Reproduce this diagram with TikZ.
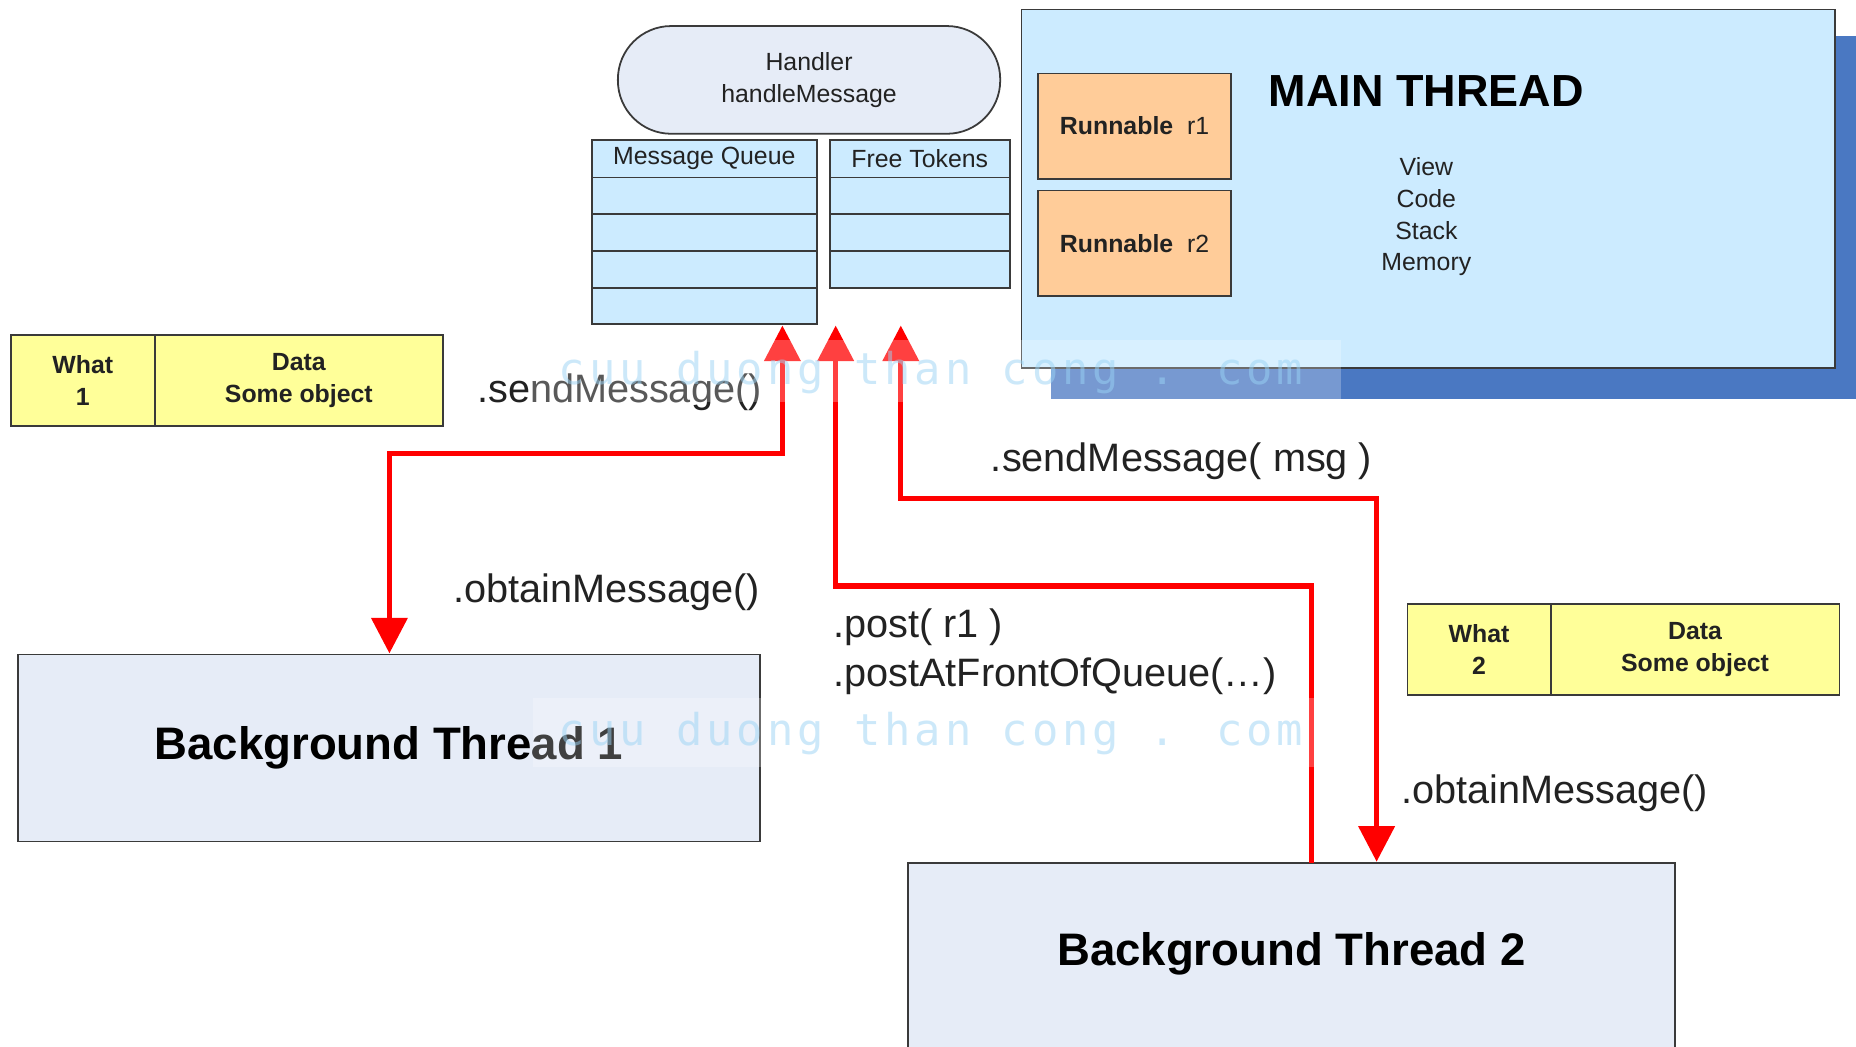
\documentclass[tikz,border=0pt]{standalone}
\usepackage{fontspec}
\setmainfont{Liberation Sans}
\newfontfamily\wmfont[LetterSpace=9]{DejaVu Sans Mono}
\usetikzlibrary{arrows.meta}
\definecolor{lblue}{HTML}{CCEBFF}
\definecolor{lav}{HTML}{E6ECF7}
\definecolor{orng}{HTML}{FFCC99}
\definecolor{yel}{HTML}{FFFF99}
\definecolor{shadowblue}{HTML}{4A78C2}
\definecolor{wm}{HTML}{9AD3F5}
\definecolor{bord}{HTML}{3A3A3A}
\definecolor{txt}{HTML}{222222}
\tikzset{
  box/.style={draw=bord, line width=1.5pt, inner sep=0pt, outer sep=0pt, anchor=north west, align=center, text=txt},
  redline/.style={draw=red, line width=4.5pt, line join=miter},
  redtip/.style={-{Triangle[length=30pt,width=30pt]}},
  redboth/.style={{Triangle[length=30pt,width=30pt]}-{Triangle[length=30pt,width=30pt]}},
  lbl/.style={anchor=west, inner sep=0pt, text=txt, font=\fontsize{33.5}{38}\selectfont},
  wmtext/.style={anchor=base west, inner sep=0pt, text=wm, text opacity=0.5, font=\wmfont\fontsize{37}{42}\selectfont}
}
\begin{document}
\begin{tikzpicture}[x=1pt,y=-1pt]
\useasboundingbox (0,0) rectangle (1568,884);
\clip (0,0) rectangle (1568,884);
\fill[white] (0,0) rectangle (1568,884);

% Handler
\node[box, fill=lav, rounded corners=45pt, minimum width=323pt, minimum height=91pt,
      font=\fontsize{21}{27}\selectfont] (handler) at (522,22) {Handler\\handleMessage};

% Message queue
\node[box, fill=lblue, minimum width=190pt, minimum height=32pt, font=\fontsize{21}{25}\selectfont] (mqh) at (500,118) {Message Queue};
\node[box, fill=lblue, minimum width=190pt, minimum height=31pt] (mq1) at (mqh.south west) {};
\node[box, fill=lblue, minimum width=190pt, minimum height=31pt] (mq2) at (mq1.south west) {};
\node[box, fill=lblue, minimum width=190pt, minimum height=31pt] (mq3) at (mq2.south west) {};
\node[box, fill=lblue, minimum width=190pt, minimum height=31pt] (mq4) at (mq3.south west) {};

% Free tokens
\node[box, fill=lblue, minimum width=152pt, minimum height=32pt, font=\fontsize{21}{25}\selectfont] (fth) at (701,118) {Free Tokens};
\node[box, fill=lblue, minimum width=152pt, minimum height=31pt] (ft1) at (fth.south west) {};
\node[box, fill=lblue, minimum width=152pt, minimum height=31pt] (ft2) at (ft1.south west) {};
\node[box, fill=lblue, minimum width=152pt, minimum height=31pt] (ft3) at (ft2.south west) {};

% Main thread
\fill[shadowblue] (888,30) rectangle (1600,337);
\node[box, fill=lblue, minimum width=687pt, minimum height=303pt] (main) at (863,8) {};
\node[box, fill=orng, minimum width=163pt, minimum height=89pt, font=\fontsize{21}{25}\selectfont] (r1) at (877,62) {\textbf{Runnable}~~r1};
\node[box, fill=orng, minimum width=163pt, minimum height=89pt, font=\fontsize{21}{25}\selectfont] (r2) at (877,161) {\textbf{Runnable}~~r2};
\node[inner sep=0pt, text=black, font=\bfseries\fontsize{38}{44}\selectfont] (mtitle) at (1205,77) {MAIN THREAD};
\node[inner sep=0pt, align=center, text=txt, font=\fontsize{21}{27}\selectfont] (mtext) at (1205,183) {View\\Code\\Stack\\Memory};

% Message objects
\node[box, fill=yel, minimum width=122pt, minimum height=77pt, font=\bfseries\fontsize{21}{27}\selectfont] (what1) at (9,283) {What\\1};
\node[box, fill=yel, minimum width=243pt, minimum height=77pt, font=\bfseries\fontsize{21}{27}\selectfont] (data1) at (131,283) {Data\\Some object};
\node[box, fill=yel, minimum width=121pt, minimum height=77pt, font=\bfseries\fontsize{21}{27}\selectfont] (what2) at (1189,510) {What\\2};
\node[box, fill=yel, minimum width=244pt, minimum height=77pt, font=\bfseries\fontsize{21}{27}\selectfont] (data2) at (1310,510) {Data\\Some object};

% Background threads
\node[box, fill=lav, minimum width=627pt, minimum height=158pt, font=\bfseries\fontsize{38.5}{44}\selectfont, text=black] (bt1) at (15,553) {Background Thread 1};
\node[box, fill=lav, minimum width=648pt, minimum height=220pt] (bt2) at (767,729) {};
\node[inner sep=0pt, font=\bfseries\fontsize{38.5}{44}\selectfont, text=black] (bt2txt) at (1091,806) {Background Thread 2};

% Connector end points
\coordinate (q1) at (661,275);
\coordinate (q2) at (706,275);
\coordinate (q3) at (761,275);
\coordinate (b1) at (329,552);
\coordinate (b2a) at (1108,729);
\coordinate (b2b) at (1163,728);

% Red arrows
\draw[redline, redboth] (q1) -- (661,383) -- (329,383) -- (b1);
\draw[redline, redtip] (b2a) -- (1108,495) -- (706,495) -- (q2);
\draw[redline, redboth] (q3) -- (761,421) -- (1163,421) -- (b2b);

% Labels
\node[lbl] (l1) at (403,331) {.sendMessage()};
\node[lbl] (l2) at (383,500) {.obtainMessage()};
\node[lbl] (l3) at (837,390) {.sendMessage( msg )};
\node[lbl] (l4) at (704,530) {.post( r1 )};
\node[lbl] (l5) at (704,571) {.postAtFrontOfQueue(…)};
\node[lbl] (l6) at (1184,670) {.obtainMessage()};

% Watermark
\fill[white, opacity=0.25] (450,287) rectangle (1133,340);
\fill[white, opacity=0.25] (450,590) rectangle (1112,648);
\node[wmtext] (wm1) at (472,325) {cuu duong than cong . com};
\node[wmtext] (wm2) at (472,630) {cuu duong than cong . com};
\end{tikzpicture}
\end{document}
